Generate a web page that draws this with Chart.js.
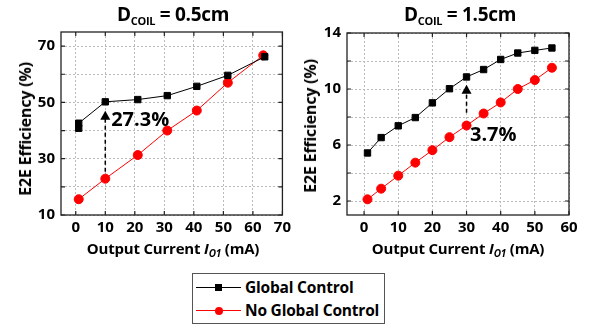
<!DOCTYPE html>
<html>
<head>
<meta charset="utf-8">
<script src="https://cdn.jsdelivr.net/npm/chart.js@4.4.1/dist/chart.umd.min.js"></script>
<style>
body{margin:0;width:589px;height:329px;background:#fff;position:relative;overflow:hidden;font-family:"Open Sans",sans-serif;font-weight:bold;color:#000}
.abs{position:absolute}
.title{font-size:19px;white-space:nowrap;transform:translateX(-50%);letter-spacing:-0.3px}
.title sub{font-size:11px;vertical-align:-4px}
.xt{font-size:15px;white-space:nowrap;transform:translateX(-50%);letter-spacing:-0.2px}
.xt sub{font-size:10px;vertical-align:-3px;font-style:italic}
.yt{font-size:16px;white-space:nowrap;transform:translate(-50%,-50%) rotate(-90deg);letter-spacing:-0.2px}
#legend{left:192px;top:273px;width:193px;height:51px;border:1px solid #555;box-sizing:border-box}
.ln{position:absolute;left:3px;width:45px;height:1px}
.mk{position:absolute}
.lt{position:absolute;left:52px;font-size:15.5px;white-space:nowrap;line-height:20px;letter-spacing:-0.2px}
</style>
</head>
<body>
<canvas id="c1" class="abs" style="left:0;top:0" width="295" height="260"></canvas>
<canvas id="c2" class="abs" style="left:295px;top:0" width="294" height="260"></canvas>

<div class="abs title" style="left:173px;top:1px">D<sub>COIL</sub> = 0.5cm</div>
<div class="abs title" style="left:460px;top:1px">D<sub>COIL</sub> = 1.5cm</div>
<div class="abs xt" style="left:173px;top:238px">Output Current <i>I</i><sub>O1</sub> (mA)</div>
<div class="abs xt" style="left:458px;top:238px">Output Current <i>I</i><sub>O1</sub> (mA)</div>
<div class="abs yt" style="left:25px;top:129px">E2E Efficiency (%)</div>
<div class="abs yt" style="left:310px;top:126px">E2E Efficiency (%)</div>

<div id="legend" class="abs">
  <div class="ln" style="top:13px;background:#000"></div>
  <div class="mk" style="left:22px;top:10px;width:7px;height:7px;background:#000"></div>
  <div class="lt" style="top:3px">Global Control</div>
  <div class="ln" style="top:36px;background:#f00"></div>
  <div class="mk" style="left:22px;top:33px;width:8px;height:8px;border-radius:50%;background:#f00"></div>
  <div class="lt" style="top:26px">No Global Control</div>
</div>

<script>
// D_COIL = 0.5cm
const xGlobal1 = [1, 1, 10, 21, 31, 41, 51.5, 64];
const yGlobal1 = [40.8, 42.6, 50.2, 51, 52.4, 55.7, 59.6, 66.2];
const xNoGlobal1 = [1, 10, 21, 31, 41, 51.5, 63.5];
const yNoGlobal1 = [15.6, 22.9, 31.3, 40, 47.1, 57, 66.7];
const xTicks1 = [0, 10, 20, 30, 40, 50, 60, 70];
const yTicks1 = [10, 20, 30, 40, 50, 60, 70];
const yLabels1 = [10, 30, 50, 70];
const arrow1 = {x: 10, from: 25.4, to: 47, text: '27.3%', tx: 12, ty: 43.8};

// D_COIL = 1.5cm
const xAll2 = [1, 5, 10, 15, 20, 25, 30, 35, 40, 45, 50, 55];
const yGlobal2 = [5.43, 6.53, 7.37, 7.96, 9.01, 10.02, 10.86, 11.39, 12.11, 12.57, 12.76, 12.93];
const yNoGlobal2 = [2.12, 2.88, 3.81, 4.74, 5.63, 6.56, 7.39, 8.25, 9.04, 10.0, 10.64, 11.52];
const xTicks2 = [0, 10, 20, 30, 40, 50, 60];
const yTicks2 = [2, 4, 6, 8, 10, 12, 14];
const yLabels2 = [2, 6, 10, 14];
const arrow2 = {x: 30, from: 8.3, to: 10.3, text: '3.7%', tx: 31, ty: 6.7};

const FONT = '"Open Sans", sans-serif';

function pts(xs, ys){ return xs.map((x, i) => ({x: x, y: ys[i]})); }

// frame + inward ticks + arrow annotation
const framePlugin = {
  id: 'frame',
  beforeDatasetsDraw(chart){
    const {ctx, chartArea: a, scales} = chart;
    ctx.save();
    ctx.strokeStyle = '#222';
    ctx.lineWidth = 1.3;
    ctx.strokeRect(a.left, a.top, a.right - a.left, a.bottom - a.top);
    ctx.lineWidth = 1.2;
    ctx.beginPath();
    scales.x.ticks.forEach(t => {
      const px = scales.x.getPixelForValue(t.value);
      ctx.moveTo(px, a.bottom); ctx.lineTo(px, a.bottom - 4);
      ctx.moveTo(px, a.top); ctx.lineTo(px, a.top + 4);
    });
    scales.y.ticks.forEach(t => {
      const py = scales.y.getPixelForValue(t.value);
      ctx.moveTo(a.left, py); ctx.lineTo(a.left + 4, py);
      ctx.moveTo(a.right, py); ctx.lineTo(a.right - 4, py);
    });
    ctx.stroke();
    ctx.restore();
  },
  afterDatasetsDraw(chart, args, opts){
    const ar = opts.arrow;
    if (!ar) return;
    const {ctx, scales} = chart;
    const px = scales.x.getPixelForValue(ar.x);
    const y0 = scales.y.getPixelForValue(ar.from);
    const y1 = scales.y.getPixelForValue(ar.to);
    ctx.save();
    ctx.strokeStyle = '#000';
    ctx.lineWidth = 1.5;
    ctx.setLineDash([4, 3]);
    ctx.beginPath();
    ctx.moveTo(px, y0); ctx.lineTo(px, y1 + 8);
    ctx.stroke();
    ctx.setLineDash([]);
    ctx.fillStyle = '#000';
    ctx.beginPath();
    ctx.moveTo(px, y1); ctx.lineTo(px - 5, y1 + 9); ctx.lineTo(px + 5, y1 + 9);
    ctx.closePath(); ctx.fill();
    ctx.font = 'bold 20px ' + FONT;
    ctx.textBaseline = 'middle';
    ctx.fillText(ar.text, scales.x.getPixelForValue(ar.tx), scales.y.getPixelForValue(ar.ty));
    ctx.restore();
  }
};

function makeChart(id, gData, nData, xr, yr, xTicks, yTicks, yLabels, arrow, pad, yw){
  return new Chart(document.getElementById(id), {
    type: 'line',
    data: {
      datasets: [{
        label: 'Global Control',
        data: gData,
        borderColor: '#000', backgroundColor: '#000',
        borderWidth: 1, pointStyle: 'rect', pointRadius: 4.5, pointHoverRadius: 4.5
      }, {
        label: 'No Global Control',
        data: nData,
        borderColor: '#f00', backgroundColor: '#f00',
        borderWidth: 1, pointStyle: 'circle', pointRadius: 4.5, pointHoverRadius: 4.5
      }]
    },
    options: {
      responsive: false,
      animation: false,
      layout: {padding: pad},
      plugins: {legend: {display: false}, tooltip: {enabled: false}, frame: {arrow: arrow}},
      scales: {
        x: {
          type: 'linear', min: xr[0], max: xr[1],
          afterBuildTicks: s => { s.ticks = xTicks.map(v => ({value: v})); },
          afterFit: s => { s.height = 45; },
          ticks: {color: '#000', font: {family: FONT, size: 15, weight: 'bold'}, padding: 4, maxRotation: 0},
          grid: {color: '#bbbbbb', lineWidth: 1, drawTicks: false},
          border: {display: false, dash: [2, 2]}
        },
        y: {
          type: 'linear', min: yr[0], max: yr[1],
          afterBuildTicks: s => { s.ticks = yTicks.map(v => ({value: v})); },
          afterFit: s => { s.width = yw; },
          ticks: {
            color: '#000', font: {family: FONT, size: 15, weight: 'bold'}, padding: 6,
            callback: v => yLabels.includes(v) ? String(v) : ''
          },
          grid: {color: '#bbbbbb', lineWidth: 1, drawTicks: false},
          border: {display: false, dash: [2, 2]}
        }
      }
    },
    plugins: [framePlugin]
  });
}

makeChart('c1', pts(xGlobal1, yGlobal1), pts(xNoGlobal1, yNoGlobal1), [-5, 70], [10, 75],
  xTicks1, yTicks1, yLabels1, arrow1, {top: 32, right: 11, left: 0, bottom: 0}, 61);
makeChart('c2', pts(xAll2, yGlobal2), pts(xAll2, yNoGlobal2), [-5, 60], [1, 14],
  xTicks2, yTicks2, yLabels2, arrow2, {top: 33, right: 20, left: 0, bottom: 0}, 52);
</script>
</body>
</html>
